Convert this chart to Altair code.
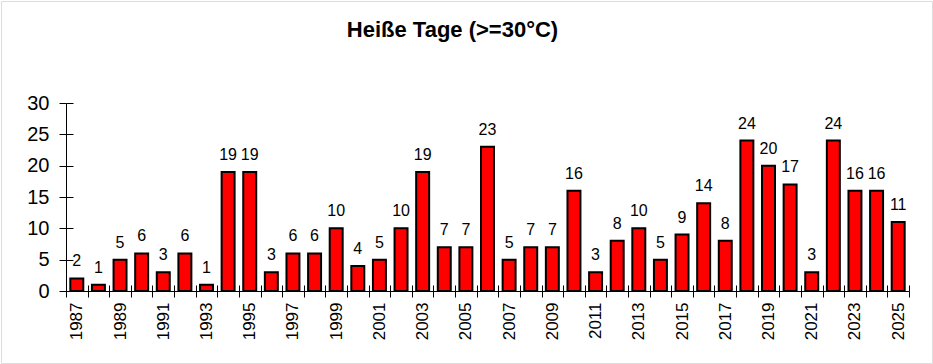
import altair as alt
import pandas as pd

years = list(range(1987, 2026))
values = [2, 1, 5, 6, 3, 6, 1, 19, 19, 3, 6, 6, 10, 4, 5, 10, 19, 7, 7, 23,
          5, 7, 7, 16, 3, 8, 10, 5, 9, 14, 8, 24, 20, 17, 3, 24, 16, 16, 11]
y_ticks = [0, 5, 10, 15, 20, 25, 30]
label_years = [y for y in years if y % 2 == 1]

df = pd.DataFrame({"year": years, "value": values})
half = 0.3
boundaries = [y - 0.5 for y in years] + [years[-1] + 0.5]

FONT = "Liberation Sans, Arial, sans-serif"
W, H = 931, 362

xscale = alt.Scale(domain=[years[0] - 0.5, years[-1] + 0.5], range=[65, 908], zero=False, nice=False, padding=0)
yscale = alt.Scale(domain=[0, 30], range=[290, 102], zero=True, nice=False, padding=0)

base = alt.Chart(df).transform_calculate(x0=f"datum.year - {half}", x1=f"datum.year + {half}")

bars = base.mark_bar(color="#ff0000", stroke="black", strokeWidth=2, orient="vertical").encode(
    x=alt.X("x0:Q", scale=xscale, title=None,
            axis=alt.Axis(orient="bottom", offset=-72, values=label_years, ticks=False, domain=True,
                          labelAngle=-90, labelPadding=11, labelFontSize=17, format="d",
                          grid=False, labelFont=FONT, labelColor="black", domainColor="black")),
    x2="x1:Q",
    y=alt.Y("value:Q", scale=yscale, title=None,
            axis=alt.Axis(orient="left", offset=-65, values=y_ticks, tickSize=7, labelPadding=10,
                          labelFontSize=20, grid=False, labelFont=FONT, labelColor="black",
                          domainColor="black", tickColor="black")),
    y2=alt.datum(0),
)

text = base.mark_text(baseline="alphabetic", dy=-12, fontSize=16, font=FONT, color="black").encode(
    x=alt.X("year:Q", scale=xscale, axis=None),
    y=alt.Y("value:Q", scale=yscale, axis=None),
    text="value:Q",
)

ticks_out = base.mark_point(opacity=0).encode(
    x=alt.X("year:Q", scale=xscale, title=None,
            axis=alt.Axis(orient="bottom", offset=-72, values=boundaries, tickSize=6, labels=False,
                          domain=False, grid=False, tickColor="black")),
    y=alt.Y("value:Q", scale=yscale, title=None,
            axis=alt.Axis(orient="left", offset=-72, values=y_ticks, tickSize=7, labels=False,
                          domain=False, grid=False, tickColor="black")),
)

ticks_in = base.mark_point(opacity=0).encode(
    x=alt.X("year:Q", scale=xscale, title=None,
            axis=alt.Axis(orient="bottom", offset=-78, values=boundaries, tickSize=6, labels=False,
                          domain=False, grid=False, tickColor="black")),
    y=alt.Y("value:Q", scale=yscale, axis=None),
)

chart = alt.layer(bars, text, ticks_out, ticks_in).resolve_axis(
    x="independent", y="independent"
).properties(
    width=W, height=H, padding=1,
    autosize=alt.AutoSizeParams(type="none"),
    title=alt.Title("Heiße Tage (>=30°C)", fontSize=22, fontWeight="bold", font=FONT,
                    color="black", anchor="middle", offset=-41, dx=-14),
).configure_view(stroke="black", strokeWidth=2, fill="white").configure(background="white")

chart.save("out.html", embed_options={"renderer": "svg", "actions": False})
